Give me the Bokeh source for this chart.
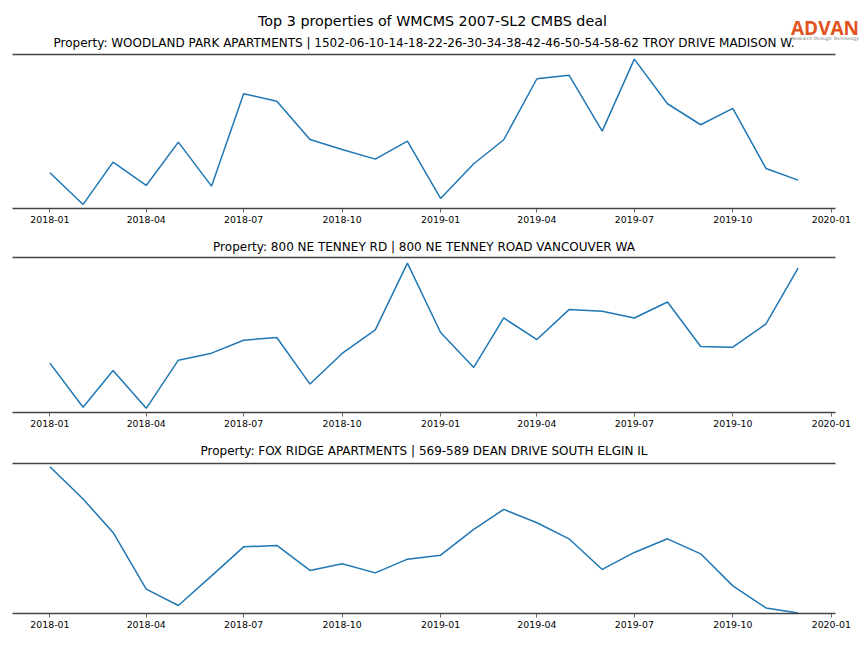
from datetime import datetime

from bokeh.embed import file_html
from bokeh.resources import INLINE
from bokeh.plotting import figure
from bokeh.layouts import column
from bokeh.core.properties import value
from bokeh.models import (ColumnDataSource, DatetimeAxis, LinearAxis, FixedTicker,
                          DatetimeTickFormatter, Range1d)

# ---------------- data ----------------
MONTHS = ["2018-01", "2018-02", "2018-03", "2018-04", "2018-05", "2018-06",
          "2018-07", "2018-08", "2018-09", "2018-10", "2018-11", "2018-12",
          "2019-01", "2019-02", "2019-03", "2019-04", "2019-05", "2019-06",
          "2019-07", "2019-08", "2019-09", "2019-10", "2019-11", "2019-12"]

WOODLAND_PARK = [35.7, 4.0, 46.3, 23.0, 66.3, 22.3, 114.7, 107.3, 69.0, 59.0, 49.3, 67.3,
                 10.0, 44.7, 68.7, 129.7, 133.3, 77.3, 149.3, 104.7, 83.7, 100.0, 40.0, 28.3]

TENNEY_RD = [49.5, 5.2, 42.2, 4.2, 52.5, 59.5, 72.5, 75.2, 28.5, 59.2, 82.8, 149.8,
             80.2, 45.2, 94.8, 73.2, 103.2, 101.5, 94.8, 110.8, 66.2, 65.5, 88.8, 144.8]

FOX_RIDGE = [146.6, 114.3, 81.0, 24.3, 8.0, 37.6, 66.6, 68.0, 43.0, 49.6, 40.6, 54.3,
             58.3, 84.0, 104.0, 90.6, 74.6, 44.0, 61.0, 74.6, 59.6, 27.6, 5.6, 0.6]

TITLES = [
    "Property: WOODLAND PARK APARTMENTS | 1502-06-10-14-18-22-26-30-34-38-42-46-50-54-58-62 TROY DRIVE MADISON W.",
    "Property: 800 NE TENNEY RD | 800 NE TENNEY ROAD VANCOUVER WA",
    "Property: FOX RIDGE APARTMENTS | 569-589 DEAN DRIVE SOUTH ELGIN IL",
]
SERIES = [WOODLAND_PARK, TENNEY_RD, FOX_RIDGE]

TICK_LABELS = ["2018-01", "2018-04", "2018-07", "2018-10", "2019-01",
               "2019-04", "2019-07", "2019-10", "2020-01"]

SUPTITLE = "Top 3 properties of WMCMS 2007-SL2 CMBS deal"
LOGO = "ADVAN"
LOGO_TAG = "Research through Technology"

# ---------------- styles / layout ----------------
FONT = "DejaVu Sans"
LINE_COLOR = "#1f77b4"
SPINE_COLOR = "#444444"
W = 864
LEFT = 12
FRAME_W = 823
# header heights and title baselines (local px)
HDR_H = [50, 22, 22]
SUB_Y = [42, 14, 14]
# panel (height, top border, bottom border)
GEOM = [(182, 4, 24), (182, 3, 24), (182, 5, 27)]
YPAD = [(0.028, 0.032), (0.029, 0.039), (0.004, 0.022)]

dates = [datetime.strptime(m, "%Y-%m") for m in MONTHS]
span = dates[-1] - dates[0]
x_start = dates[0] - span * 0.05
x_end = dates[-1] + span * 0.05
tick_ms = [datetime.strptime(t, "%Y-%m").timestamp() * 1000 for t in TICK_LABELS]

fmt = "%Y-%m"
formatter = DatetimeTickFormatter(milliseconds=fmt, seconds=fmt, minsec=fmt, minutes=fmt,
                                  hourmin=fmt, hours=fmt, days=fmt, months=fmt, years=fmt)


def header(h):
    hp = figure(width=W, height=h, output_backend="svg", toolbar_location=None,
                x_axis_location=None, y_axis_location=None,
                x_range=Range1d(0, W), y_range=Range1d(h, 0),
                min_border=0)
    hp.frame_align = False
    hp.outline_line_color = None
    hp.grid.visible = False
    return hp


items = []
for i, (vals, title) in enumerate(zip(SERIES, TITLES)):
    hh = HDR_H[i]
    hp = header(hh)
    hp.text(x=[LEFT + FRAME_W / 2], y=[SUB_Y[i]], text=[title],
            text_font=value(FONT), text_font_size="12px",
            text_align="center", text_baseline="middle", text_color="black")
    if i == 0:
        hp.text(x=[432], y=[20], text=[SUPTITLE], text_font=value(FONT),
                text_font_size="14.3px", text_align="center", text_baseline="middle",
                text_color="black")
        hp.text(x=[824.5], y=[27], text=[LOGO], text_font=value("Open Sans"),
                text_font_size="19px", text_font_style="bold",
                text_align="center", text_baseline="middle", text_color="#e2531f")
        hp.text(x=[824.5], y=[38], text=[LOGO_TAG], text_font=value(FONT),
                text_font_size="4.6px", text_align="center", text_baseline="middle",
                text_color="#777777")
    items.append(hp)

    h, bt, bb = GEOM[i]
    lo, hi = min(vals), max(vals)
    s = hi - lo
    p = figure(width=W, height=h, output_backend="svg", toolbar_location=None,
               x_axis_type=None, y_axis_location=None,
               x_range=Range1d(x_start, x_end),
               y_range=Range1d(lo - YPAD[i][0] * s, hi + YPAD[i][1] * s),
               min_border_left=LEFT, min_border_right=W - LEFT - FRAME_W,
               min_border_top=bt, min_border_bottom=bb)
    p.frame_align = False
    p.outline_line_color = None
    p.grid.visible = False

    xaxis = DatetimeAxis(ticker=FixedTicker(ticks=tick_ms), formatter=formatter)
    xaxis.axis_line_color = SPINE_COLOR
    xaxis.axis_line_width = 1.4
    xaxis.major_tick_in = 0
    xaxis.major_tick_out = 4
    xaxis.major_tick_line_color = "#555555"
    xaxis.major_tick_line_width = 0.9
    xaxis.minor_tick_line_color = None
    xaxis.major_label_text_font = FONT
    xaxis.major_label_text_font_size = "9.4px"
    xaxis.major_label_text_color = "black"
    xaxis.major_label_standoff = 3
    p.add_layout(xaxis, "below")

    top = LinearAxis(ticker=FixedTicker(ticks=[]))
    top.axis_line_color = SPINE_COLOR
    top.axis_line_width = 1.4
    top.major_tick_line_color = None
    top.minor_tick_line_color = None
    top.major_label_text_font_size = "0px"
    top.major_label_standoff = 0
    p.add_layout(top, "above")

    src = ColumnDataSource(dict(x=dates, y=vals))
    p.line("x", "y", source=src, line_color=LINE_COLOR, line_width=1.5)
    items.append(p)

layout = column(*items, spacing=0)
open("out.html", "w").write(file_html(layout, INLINE))
